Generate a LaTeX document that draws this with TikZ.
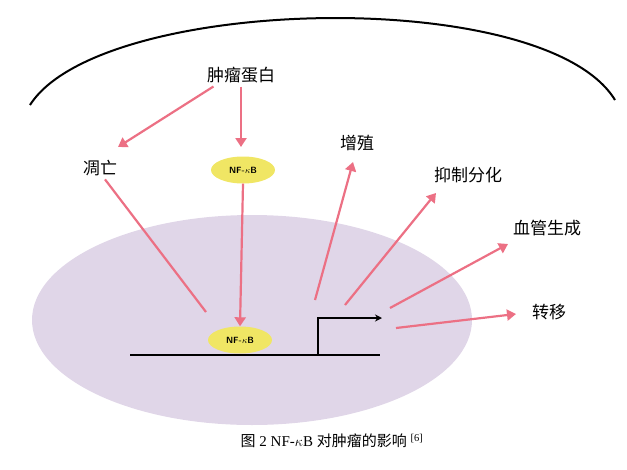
\documentclass[tikz,border=0pt]{standalone}
\usepackage{fontspec}
\newfontfamily\cjk{Noto Sans CJK SC}
\setmainfont{Liberation Serif}
\usetikzlibrary{arrows.meta,shapes.geometric}
\definecolor{pinkarr}{RGB}{236,112,132}
\definecolor{lav}{RGB}{224,214,232}
\definecolor{nfy}{RGB}{240,230,100}
\tikzset{
 arr/.style={pinkarr,line width=2.2pt,-{Triangle[length=9pt,width=11pt]}},
 plainarr/.style={pinkarr,line width=2.2pt},
 lbl/.style={font=\cjk\fontsize{17}{19}\selectfont},
 nf/.style={ellipse,fill=nfy,minimum width=64pt,minimum height=27pt,inner sep=0pt,font=\sffamily\bfseries\fontsize{9}{10}\selectfont}
}
\begin{document}
\begin{tikzpicture}[x=1pt,y=-1pt]
\useasboundingbox (0,0) rectangle (627,469);
\fill[lav] (252,320) ellipse [x radius=220,y radius=105];
\draw[line width=2pt] (30,105) .. controls (100,-5) and (545,-15) .. (615,100);
\node[lbl] (tp) at (241,75) {肿瘤蛋白};
\node[lbl] (ap) at (100,168) {凋亡};
\node[nf] (nf1) at (243,170) {NF-$\kappa$B};
\node[nf] (nf2) at (240,340) {NF-$\kappa$B};
\node[lbl] (zz) at (357,143) {增殖};
\node[lbl] (yz) at (468,175) {抑制分化};
\node[lbl] (xg) at (547,228) {血管生成};
\node[lbl] (zy) at (549,312) {转移};
\coordinate (l0) at (130,355);
\coordinate (l1) at (380,355);
\coordinate (p0) at (318,355);
\coordinate (p1) at (318,318);
\coordinate (p2) at (382,318);
\draw[line width=1.6pt] (l0) -- (l1);
\draw[line width=1.6pt,-{Stealth[length=7pt,width=7pt]}] (p0) -- (p1) -- (p2);
\draw[arr] (tp.south west)++(10,0) -- (118,147);
\draw[arr] (tp.south) -- (241,147);
\draw[arr] (nf1.south) -- (nf2.north);
\draw[plainarr] (ap.south) ++(5,0) -- (206,312);
\coordinate (s1) at (315,300);
\coordinate (s2) at (345,305);
\coordinate (s3) at (390,308);
\coordinate (s4) at (396,328);
\draw[arr] (s1) -- (353,162);
\draw[arr] (s2) -- (436,193);
\draw[arr] (s3) -- (508,244);
\draw[arr] (s4) -- (516,314);
\node (cap) at (332,441) {\fontsize{15}{17}\selectfont{\cjk 图} 2 NF-$\kappa$B {\cjk 对肿瘤的影响} \textsuperscript{[6]}};
\end{tikzpicture}
\end{document}
